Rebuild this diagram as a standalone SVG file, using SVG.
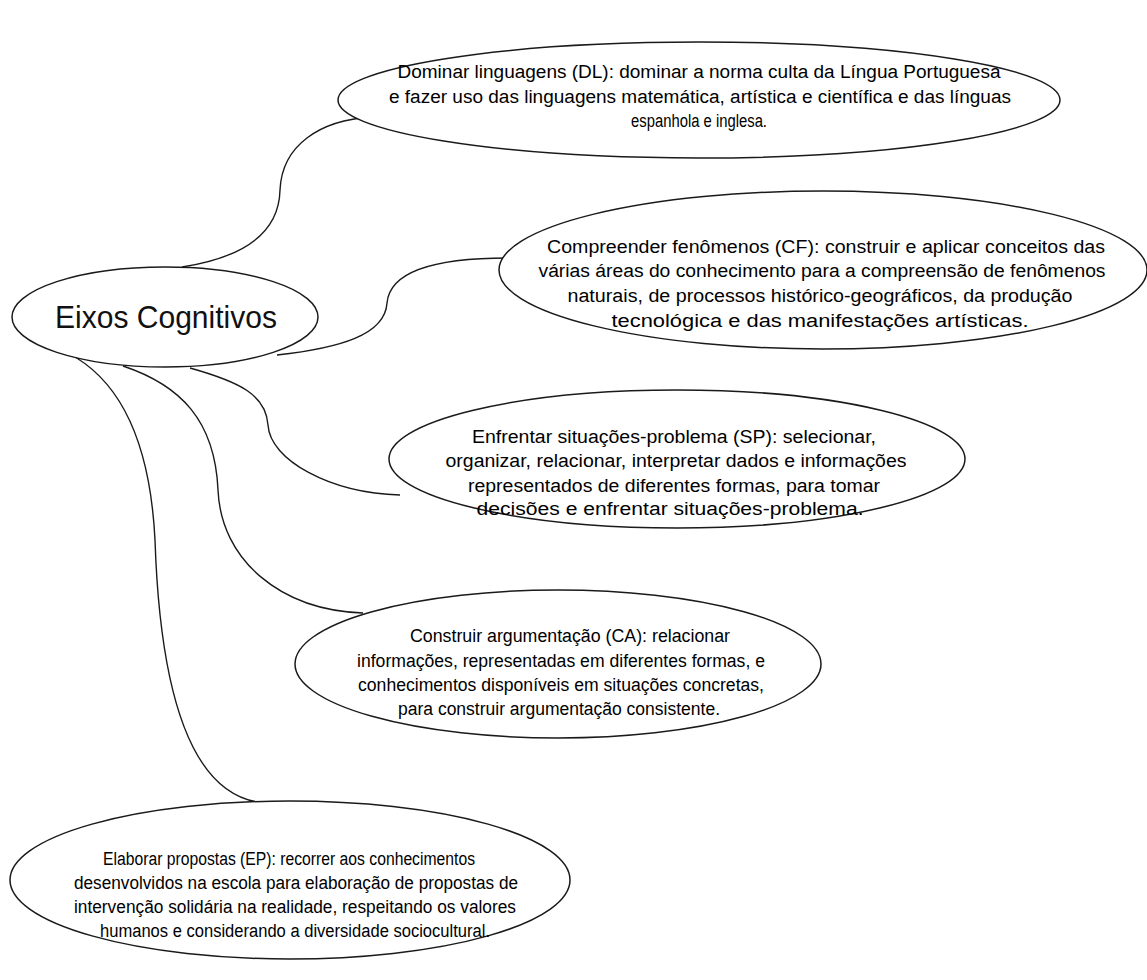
<svg xmlns="http://www.w3.org/2000/svg" width="1147" height="980" viewBox="0 0 1147 980">
<style>
.shape{fill:#fff;stroke:#1a1a1a;stroke-width:1.5}
.conn{fill:none;stroke:#1a1a1a;stroke-width:1.4}
.t{font-family:"Liberation Sans",Arial,sans-serif;font-size:18px;fill:#000;text-anchor:middle}
.big{font-family:"Liberation Sans",Arial,sans-serif;font-size:32px;fill:#111}
</style>
<rect width="1147" height="980" fill="#fff"/>
<g id="connectors">
<path class="conn" d="M182,267 C240,258 279,235 280,190 C282,145 320,120 372,117"/>
<path class="conn" d="M277,355 C340,348 385,335 387,303 C390,270 440,258 508,258"/>
<path class="conn" d="M190,368 C240,382 266,395 268,425 C270,460 330,493 400,495"/>
<path class="conn" d="M123,366 C180,385 215,420 218,490 C221,560 280,610 363,613"/>
<path class="conn" d="M68,353 C120,380 150,440 155,540 C160,690 190,790 257,802"/>
</g>
<g id="node-center">
<ellipse class="shape" cx="165" cy="317" rx="153" ry="50"/>
<text class="big" x="55" y="328" textLength="222" lengthAdjust="spacingAndGlyphs">Eixos Cognitivos</text>
</g>
<g id="node-dl">
<ellipse class="shape" cx="699" cy="100" rx="361" ry="58"/>
<text class="t" x="699" y="78" textLength="603" lengthAdjust="spacingAndGlyphs">Dominar linguagens (DL): dominar a norma culta da Língua Portuguesa</text>
<text class="t" x="700" y="103" textLength="622" lengthAdjust="spacingAndGlyphs">e fazer  uso das linguagens matemática, artística e científica e das línguas</text>
<text class="t" x="699" y="127" textLength="136" lengthAdjust="spacingAndGlyphs">espanhola e inglesa.</text>
</g>
<g id="node-cf">
<ellipse class="shape" cx="823" cy="270" rx="324" ry="79"/>
<text class="t" x="826" y="253" textLength="558" lengthAdjust="spacingAndGlyphs">Compreender fenômenos (CF): construir e aplicar conceitos das</text>
<text class="t" x="822" y="277" textLength="567" lengthAdjust="spacingAndGlyphs">várias áreas  do conhecimento para a compreensão de fenômenos</text>
<text class="t" x="820" y="302" textLength="505" lengthAdjust="spacingAndGlyphs">naturais, de processos histórico-geográficos, da produção</text>
<text class="t" x="820" y="327" textLength="417" lengthAdjust="spacingAndGlyphs">tecnológica e das manifestações artísticas.</text>
</g>
<g id="node-sp">
<ellipse class="shape" cx="677" cy="459" rx="288" ry="69"/>
<text class="t" x="674" y="443" textLength="404" lengthAdjust="spacingAndGlyphs">Enfrentar situações-problema (SP): selecionar,</text>
<text class="t" x="676" y="467" textLength="461" lengthAdjust="spacingAndGlyphs">organizar, relacionar, interpretar dados e informações</text>
<text class="t" x="674" y="492" textLength="412" lengthAdjust="spacingAndGlyphs">representados de diferentes formas, para tomar</text>
<text class="t" x="670" y="515" textLength="387" lengthAdjust="spacingAndGlyphs">decisões e enfrentar situações-problema.</text>
</g>
<g id="node-ca">
<ellipse class="shape" cx="558" cy="664" rx="263" ry="74"/>
<text class="t" x="570" y="642" textLength="320" lengthAdjust="spacingAndGlyphs">Construir argumentação (CA):  relacionar</text>
<text class="t" x="561" y="667" textLength="408" lengthAdjust="spacingAndGlyphs">informações, representadas em diferentes formas, e</text>
<text class="t" x="561" y="691" textLength="406" lengthAdjust="spacingAndGlyphs">conhecimentos disponíveis em situações concretas,</text>
<text class="t" x="559" y="715" textLength="322" lengthAdjust="spacingAndGlyphs">para construir argumentação consistente.</text>
</g>
<g id="node-ep">
<ellipse class="shape" cx="290" cy="880" rx="280" ry="79"/>
<text class="t" x="289" y="865" textLength="372" lengthAdjust="spacingAndGlyphs">Elaborar propostas (EP): recorrer aos conhecimentos</text>
<text class="t" x="296" y="889" textLength="444" lengthAdjust="spacingAndGlyphs">desenvolvidos na escola para elaboração de propostas de</text>
<text class="t" x="295" y="913" textLength="442" lengthAdjust="spacingAndGlyphs">intervenção solidária na realidade, respeitando os valores</text>
<text class="t" x="295" y="937" textLength="390" lengthAdjust="spacingAndGlyphs">humanos e considerando a diversidade sociocultural.</text>
</g>
</svg>
